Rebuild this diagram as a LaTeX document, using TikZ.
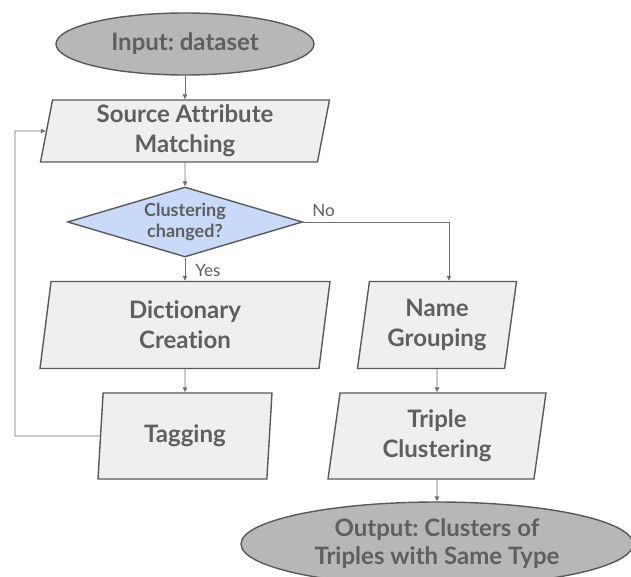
\documentclass[tikz,border=0pt]{standalone}
\usepackage{fontspec}
\setmainfont{Lato}[Ligatures={NoCommon}]
\frenchspacing
\usetikzlibrary{shapes.geometric,arrows.meta}
\definecolor{bordc}{HTML}{595959}
\definecolor{txtc}{HTML}{5F5F5F}
\definecolor{boxfill}{HTML}{EFEFEF}
\definecolor{termfill}{HTML}{B7B7B7}
\definecolor{decfill}{HTML}{C9DAF8}
\definecolor{linec}{HTML}{707070}
\begin{document}
\begin{tikzpicture}[x=1pt,y=-1pt,
  every node/.style={font=\fontsize{24}{30}\selectfont\bfseries, text=txtc, align=center, inner sep=0pt},
  term/.style={ellipse, draw=bordc, line width=1.4pt, fill=termfill},
  proc/.style={trapezium, trapezium left angle=77, trapezium right angle=103,
    trapezium stretches body, draw=bordc, line width=1.4pt, fill=boxfill},
  dec/.style={diamond, draw=bordc, line width=1.4pt, fill=decfill,
    font=\fontsize{18}{21}\selectfont\bfseries, minimum width=235pt, minimum height=70pt, aspect=3.3},
  conn/.style={draw=linec, line width=0.9pt, -{Triangle[length=5pt,width=4.5pt]}},
  lab/.style={font=\fontsize{17}{20}\selectfont\mdseries}
]
\useasboundingbox (0,0) rectangle (631,577);
\node[term, minimum width=258pt, minimum height=62pt] (in) at (185,44) {Input: dataset};
\node[proc, minimum width=289pt, minimum height=62pt] (src) at (185,131) {Source Attribute\\Matching};
\node[dec] (dec) at (185,222) {Clustering\\changed?};
\node[proc, minimum width=290pt, minimum height=87pt] (dict) at (185,325) {Dictionary\\Creation};
\node[proc, minimum width=159pt, minimum height=87pt] (name) at (437,325) {Name\\Grouping};
\node[proc, minimum width=174pt, minimum height=86pt] (tag) at (185,436) {Tagging};
\node[proc, minimum width=218pt, minimum height=86pt] (trip) at (437,436) {Triple\\Clustering};
\node[term, minimum width=392pt, minimum height=84pt, font=\fontsize{24}{28}\selectfont\bfseries] (out) at (437,544) {Output: Clusters of\\Triples with Same Type};
\coordinate (fb) at (15,131);
\draw[conn] (in) -- (src);
\draw[conn] (src) -- (dec);
\draw[conn] (dec) -- node[lab, right, xshift=10pt, yshift=-1pt] {Yes} (dict);
\draw[conn] (dec.east) -| ([xshift=12pt]name.north);
\node[lab, anchor=south west] (no) at ([xshift=9pt,yshift=5pt]dec.east) {No};
\draw[conn] (dict) -- (tag);
\draw[conn] (tag.west) -| (fb) -- (src.west);
\draw[conn] (name) -- (trip);
\draw[conn] (trip) -- (out);
\end{tikzpicture}
\end{document}
